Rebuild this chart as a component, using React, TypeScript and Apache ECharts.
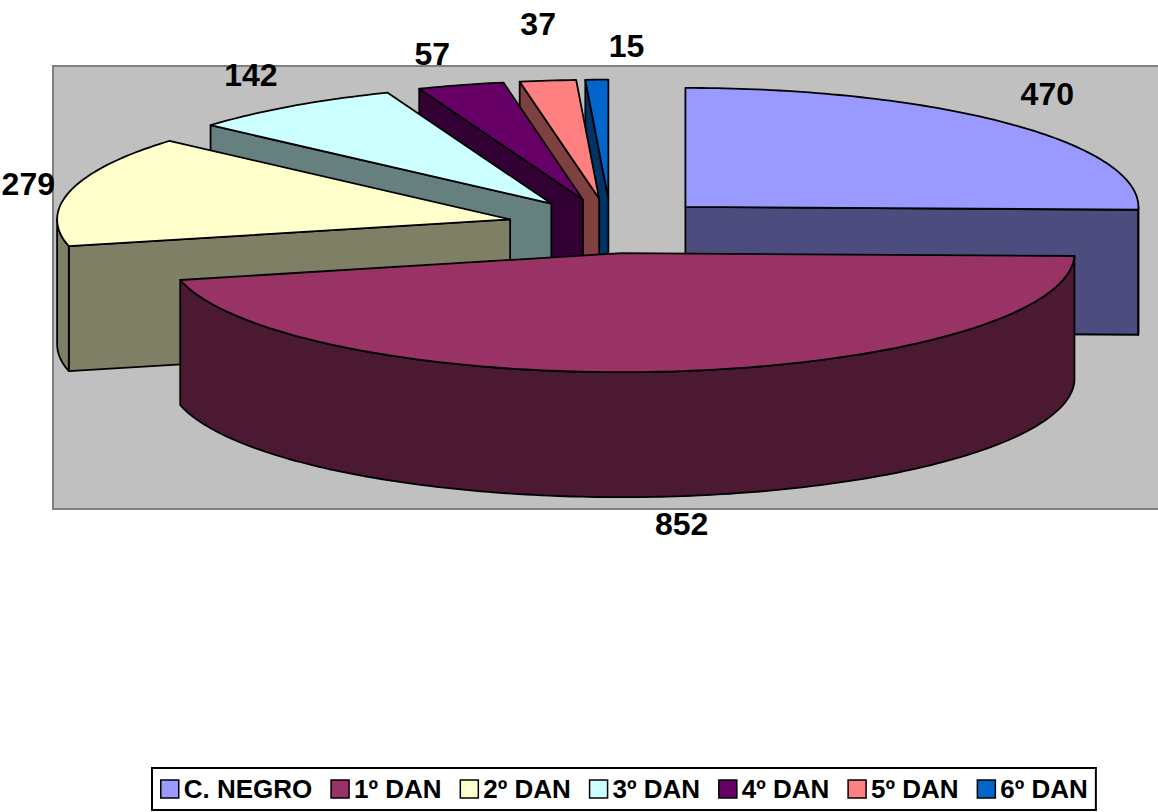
import React, { useEffect, useRef } from 'react';
import * as echarts from 'echarts';

// ---- data ----
const categories = ['C. NEGRO', '1º DAN', '2º DAN', '3º DAN', '4º DAN', '5º DAN', '6º DAN'];
const values = [470, 852, 279, 142, 57, 37, 15];
const topColors = ['#9999FF', '#993366', '#FFFFCC', '#CCFFFF', '#660066', '#FF8080', '#0066CC'];
const sideColors = ['#4C4C7F', '#4C1933', '#7F7F66', '#667F7F', '#330033', '#7F4040', '#003366'];

// ---- layout (pixels) ----
const CX = 611;
const CY = 226;
const RX = 453;
const RY = 119;
const DEPTH = 125;
const EXPLODE = 104;
const LABEL_OUT_X = 50;
const LABEL_OUT_Y = 35;
const labelNudge = [[2, -5], [9, -7], [6, 2], [-12, -2], [-15, 3], [-4, -22], [31, 1]];
const FONT = '"Liberation Sans", Arial, Helvetica, sans-serif';

const total = values.reduce((a, b) => a + b, 0);
const slices = values.map((v, i) => {
  const before = values.slice(0, i).reduce((a, b) => a + b, 0);
  const start = (before / total) * 360;
  const end = start + (v / total) * 360;
  return { start, end, mid: (start + end) / 2 };
});
const rad = (d: number) => (d * Math.PI) / 180;

// draw back slices first
const order = values
  .map((_, i) => i)
  .sort((a, b) => Math.cos(rad(slices[b].mid)) - Math.cos(rad(slices[a].mid)));

function makeRenderItem(i: number, rank: number) {
  return (_params: any, api: any) => {
    const s = slices[i];
    const m = rad(s.mid);
    const ax = CX + EXPLODE * Math.sin(m);
    const ay = CY - EXPLODE * (RY / RX) * Math.cos(m);
    const pt = (deg: number, dy = 0) => [ax + RX * Math.sin(rad(deg)), ay - RY * Math.cos(rad(deg)) + dy];
    const arc = (a: number, b: number, dy = 0) => {
      const n = Math.max(2, Math.ceil((b - a) / 1));
      const out: number[][] = [];
      for (let k = 0; k <= n; k++) out.push(pt(a + ((b - a) * k) / n, dy));
      return out;
    };
    const edge = { stroke: '#000', lineWidth: 1.8, lineJoin: 'round' };
    const children: any[] = [];
    let z = rank * 10;
    const face = (deg: number) => ({
      type: 'polygon',
      z2: z++,
      shape: { points: [[ax, ay], pt(deg), pt(deg, DEPTH), [ax, ay + DEPTH]] },
      style: { fill: sideColors[i], ...edge },
    });
    if (Math.sin(rad(s.start)) < -1e-6) children.push(face(s.start));
    if (Math.sin(rad(s.end)) > 1e-6) children.push(face(s.end));
    const w1 = Math.max(s.start, 90);
    const w2 = Math.min(s.end, 270);
    if (w2 > w1) {
      children.push({
        type: 'polygon',
        z2: z++,
        shape: { points: [...arc(w1, w2), ...arc(w1, w2, DEPTH).reverse()] },
        style: { fill: sideColors[i], ...edge },
      });
    }
    children.push({
      type: 'polygon',
      z2: z++,
      shape: { points: [[ax, ay], ...arc(s.start, s.end)] },
      style: { fill: topColors[i], ...edge },
    });
    const c = Math.cos(m);
    const lx = ax + (RX + LABEL_OUT_X) * Math.sin(m) + labelNudge[i][0];
    const ly = ay - (RY + LABEL_OUT_Y) * c + (c < 0 ? -c * DEPTH : 0) + labelNudge[i][1];
    children.push({
      type: 'text',
      z2: 500,
      x: lx,
      y: ly,
      style: {
        text: String(api.value(0)),
        fill: '#000',
        fontSize: 32,
        fontWeight: 'bold',
        fontFamily: FONT,
        align: 'center',
        verticalAlign: 'middle',
      },
    });
    return { type: 'group', children };
  };
}

export default function App() {
  const ref = useRef<HTMLDivElement>(null);
  useEffect(() => {
    if (!ref.current) return;
    const chart = echarts.init(ref.current, null, { renderer: 'svg' });
    chart.setOption({
      animation: false,
      backgroundColor: '#fff',
      graphic: [
        {
          type: 'rect',
          z: 0,
          shape: { x: 53, y: 66, width: 1130, height: 443 },
          style: { fill: '#C0C0C0', stroke: '#808080', lineWidth: 2 },
        },
      ],
      legend: {
        data: categories,
        top: 768,
        left: 152,
        orient: 'horizontal',
        icon: 'rect',
        itemWidth: 18,
        itemHeight: 18,
        itemGap: 18,
        borderColor: '#000',
        borderWidth: 2,
        padding: [8, 8],
        backgroundColor: '#fff',
        selectedMode: false,
        itemStyle: { borderColor: '#000', borderWidth: 1.5 },
        textStyle: { fontSize: 26, fontWeight: 'bold', color: '#000', fontFamily: FONT },
      },
      series: order.map((i, rank) => ({
        type: 'custom',
        name: categories[i],
        coordinateSystem: 'none',
        silent: true,
        itemStyle: { color: topColors[i], borderColor: '#000', borderWidth: 1.5 },
        renderItem: makeRenderItem(i, rank),
        data: [[values[i]]],
      })),
    });
    return () => chart.dispose();
  }, []);
  return (
    <div
      ref={ref}
      style={{ position: 'fixed', left: 0, top: 0, width: 1158, height: 812, background: '#fff' }}
    />
  );
}
